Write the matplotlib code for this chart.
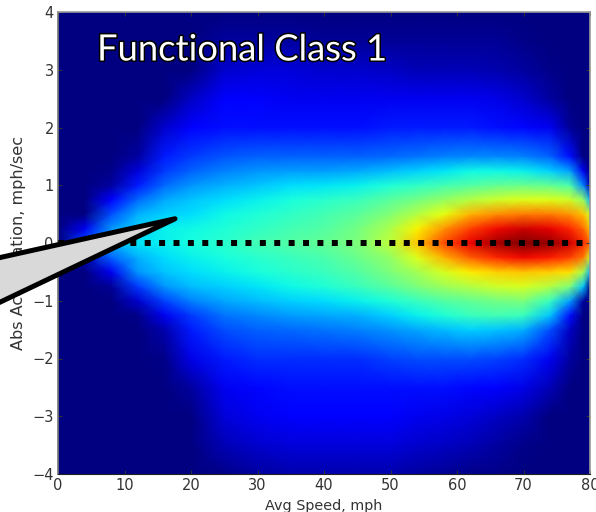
import numpy as np
import matplotlib
matplotlib.use("Agg")
import matplotlib.pyplot as plt
from matplotlib.patches import Polygon
import matplotlib.patheffects as pe

speed_levels = [0, 4, 8, 12, 16, 20, 25, 30, 35, 40, 45, 50, 54, 58, 62, 66, 70, 74, 77, 79, 80]
accel_levels = [-4, -3.5, -3, -2.5, -2, -1.5, -1.25, -1, -0.75, -0.5, -0.25, 0,
                0.25, 0.5, 0.75, 1, 1.25, 1.5, 2, 2.5, 3, 3.5, 4]

# Read colour position (0 navy .. 1 dark red) per acceleration level, bottom to top
row_m40 = [0, 0, 0, 0, 0, 0, .01, .03, .04, .04, .04, .04, .03, .02, .01, .01, 0, 0, 0, 0, 0]
row_m35 = [0, 0, 0, 0, 0, 0, .05, .07, .08, .08, .08, .08, .07, .06, .05, .03, .01, 0, 0, 0, 0]
row_m30 = [0, 0, 0, 0, 0, 0, .08, .10, .11, .11, .11, .11, .10, .09, .08, .06, .04, 0, 0, 0, 0]
row_m25 = [0, 0, 0, 0, 0, .03, .10, .13, .14, .14, .14, .14, .14, .14, .13, .11, .09, .05, 0, 0, 0]
row_m20 = [0, 0, 0, 0, .01, .09, .15, .17, .17, .17, .17, .19, .20, .20, .20, .19, .17, .10, .03, 0, 0]
row_m15 = [0, 0, 0, 0, .04, .15, .20, .22, .23, .24, .25, .27, .29, .31, .33, .32, .30, .20, .06, 0, 0]
row_m125 = [0, 0, 0, .01, .10, .18, .24, .26, .28, .29, .30, .33, .36, .39, .42, .43, .42, .32, .14, 0, 0]
row_m10 = [0, 0, 0, .07, .19, .25, .29, .31, .33, .34, .36, .39, .42, .45, .47, .49, .50, .42, .28, .03, 0]
row_m075 = [0, 0, .02, .18, .27, .31, .33, .35, .37, .39, .42, .46, .50, .54, .57, .60, .61, .57, .50, .32, 0]
row_m05 = [0, 0, .10, .27, .32, .34, .36, .38, .40, .42, .45, .50, .55, .61, .66, .69, .70, .69, .67, .55, .30]
row_m025 = [0, .05, .22, .30, .34, .36, .38, .40, .42, .44, .48, .53, .62, .72, .81, .87, .90, .88, .84, .78, .60]
row_p00 = [0, .20, .30, .35, .36, .38, .40, .43, .45, .47, .50, .58, .70, .83, .91, .97, 1.0, .98, .93, .87, .80]
row_p025 = [0, .10, .27, .33, .36, .37, .39, .41, .43, .45, .49, .56, .65, .75, .84, .90, .93, .91, .87, .80, .70]
row_p05 = [0, 0, .20, .30, .33, .34, .37, .39, .41, .43, .46, .51, .57, .63, .72, .76, .78, .78, .75, .70, .60]
row_p075 = [0, 0, .12, .23, .29, .32, .34, .36, .38, .40, .42, .46, .49, .53, .57, .60, .62, .62, .60, .53, .30]
row_p10 = [0, 0, .03, .15, .23, .27, .30, .32, .34, .35, .36, .39, .41, .43, .45, .47, .48, .47, .44, .25, .05]
row_p125 = [0, 0, .01, .08, .18, .22, .25, .27, .28, .28, .29, .31, .33, .35, .37, .37, .36, .33, .28, .10, 0]
row_p15 = [0, 0, 0, .03, .15, .18, .21, .22, .22, .22, .22, .23, .24, .25, .26, .26, .25, .22, .14, 0, 0]
row_p20 = [0, 0, 0, 0, .07, .12, .14, .14, .14, .14, .14, .15, .15, .15, .15, .14, .13, .10, .02, 0, 0]
row_p25 = [0, 0, 0, 0, 0, .06, .11, .11, .10, .10, .10, .10, .10, .10, .10, .09, .07, .03, 0, 0, 0]
row_p30 = [0, 0, 0, 0, 0, 0, .07, .08, .08, .07, .07, .06, .05, .05, .05, .04, .03, .01, 0, 0, 0]
row_p35 = [0, 0, 0, 0, 0, 0, .03, .03, .03, .02, .02, .02, .02, .02, .02, .02, .01, 0, 0, 0, 0]
row_p40 = [0] * 21

density_rows = [row_m40, row_m35, row_m30, row_m25, row_m20, row_m15, row_m125, row_m10,
                row_m075, row_m05, row_m025, row_p00, row_p025, row_p05, row_p075, row_p10,
                row_p125, row_p15, row_p20, row_p25, row_p30, row_p35, row_p40]

x_ticks = [0, 10, 20, 30, 40, 50, 60, 70, 80]
y_ticks = [-4, -3, -2, -1, 0, 1, 2, 3, 4]
title_text = "Functional Class 1"
x_label = "Avg Speed, mph"
y_label = "Abs Acceleration, mph/sec"
zero_line_x = [0, 80]
zero_line_y = [0, 0]
callout_x = [17.6, -11, -11]
callout_y = [0.42, -0.31, -1.15]

W, H = 596, 512
fig = plt.figure(figsize=(W / 100, H / 100), dpi=100, facecolor="white")
ax = fig.add_axes([58 / W, 1 - 474 / H, (590 - 58) / W, (474 - 12) / H])

ax.pcolormesh(speed_levels, accel_levels, np.array(density_rows), cmap="jet",
              vmin=0, vmax=1, shading="gouraud", rasterized=True)
ax.set_xlim(0, 80)
ax.set_ylim(-4, 4)

ax.plot(zero_line_x, zero_line_y, color="black", lw=4.3,
        linestyle=(2.35, (1, 1.41)), dash_capstyle="butt", zorder=5)

ax.set_xticks(x_ticks)
ax.set_yticks(y_ticks)
ax.tick_params(direction="in", length=3, width=0.7, colors="#333333",
               labelsize=10.5, top=True, right=True, pad=3)
for s in ("top", "right"):
    ax.spines[s].set_color("#999999")
    ax.spines[s].set_linewidth(1.2)
ax.spines["left"].set_color("#777777")
ax.spines["left"].set_linewidth(1.2)
ax.spines["bottom"].set_color("#222222")

ax.set_xlabel(x_label, fontsize=10.4, color="#333333")
ax.xaxis.set_label_coords(0.5, 1 - (505 - 12) / (474 - 12) + 0.012)
ax.set_ylabel(y_label, fontsize=11.6, color="#333333")
ax.yaxis.set_label_coords((26 - 58) / (590 - 58), 0.5)

ax.text((97 - 58) / (590 - 58), 1 - (50 - 12) / (474 - 12), title_text, transform=ax.transAxes,
        family="Lato", fontsize=26.2, color="white", ha="left", va="center", zorder=9,
        path_effects=[pe.withStroke(linewidth=2.2, foreground="black")])

callout = Polygon(np.column_stack([callout_x, callout_y]), closed=True, facecolor="#d9d9d9",
                  edgecolor="black", linewidth=3.6, joinstyle="round", clip_on=False, zorder=10)
ax.add_patch(callout)

fig.savefig("out.png", dpi=100)
